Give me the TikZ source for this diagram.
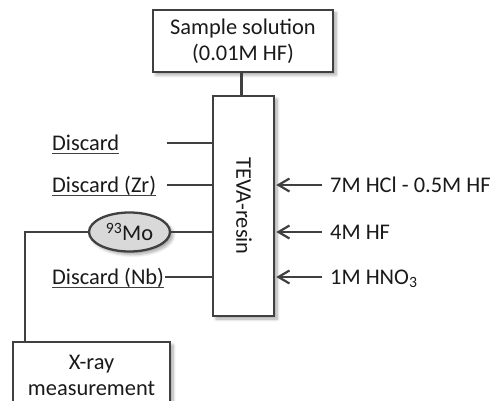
\documentclass[tikz,border=0pt]{standalone}
\usepackage{fontspec}
\setmainfont{Carlito}
\usetikzlibrary{arrows.meta,shapes.geometric,shadows.blur}
\definecolor{ln}{HTML}{404040}
\definecolor{tx}{HTML}{1A1A1A}
\definecolor{mofill}{HTML}{D9D9D9}
\tikzset{
  shad/.style={blur shadow={shadow xshift=3pt,shadow yshift=-3pt,shadow blur steps=6,shadow opacity=35,shadow blur radius=3pt}},
  boxnode/.style={draw=ln,line width=2.6pt,fill=white,inner sep=0pt,align=center,text=tx,shad},
  conn/.style={draw=ln,line width=2.3pt},
  feed/.style={conn,-{Straight Barb[length=11pt,width=13pt,line width=2.2pt]}},
  lbl/.style={inner sep=0pt,text=tx,anchor=base west},
  uline/.style={draw=ln,line width=1pt},
}
\begin{document}
\begin{tikzpicture}[x=1pt,y=-1pt,font=\fontsize{22.4}{26}\selectfont]
\useasboundingbox (0,0) rectangle (492,401);
% boxes
\node[boxnode,minimum width=180pt,minimum height=62pt] (sample) at (243,41) {Sample solution\\(0.01M HF)};
\node[boxnode,minimum width=61pt,minimum height=220pt] (resin) at (243.5,206) {};
\node[text=tx,rotate=-90,inner sep=0pt] (resinlbl) at (244,206) {TEVA-resin};
\node[boxnode,minimum width=157pt,minimum height=66pt] (xray) at (91.5,375) {X-ray\\measurement};
\node[ellipse,draw=ln,line width=2.3pt,fill=mofill,minimum width=81pt,minimum height=39pt,inner sep=0pt,text=tx,shad] (mo) at (129.5,232) {$^{\mathrm{93}}$Mo};
% top connector
\draw[conn] (sample.south -| 241.5,0) -- (resin.north -| 241.5,0);
% left labels
\node[lbl] (d1) at (52,150) {Discard};
\node[lbl] (d2) at (52,192) {Discard (Zr)};
\node[lbl] (d3) at (52,284) {Discard (Nb)};
\foreach \n in {d1,d2,d3}{
  \draw[uline] ([yshift=-3pt]\n.base west) -- ([yshift=-3pt]\n.base east);
}
\coordinate (c1) at (167,143);
\coordinate (c2) at (167,185);
\coordinate (c3) at (165,277);
\draw[conn] (c1) -- (c1 -| resin.west);
\draw[conn] (c2) -- (c2 -| resin.west);
\draw[conn] (c3) -- (c3 -| resin.west);
\draw[conn] (mo.east) -- (mo.east -| resin.west);
\coordinate (corner) at (25,232);
\draw[conn] (mo.west) -- (corner) -- (corner |- xray.north);
% right feeds
\coordinate (f1) at (322,185);
\coordinate (f2) at (322,232);
\coordinate (f3) at (322,277);
\draw[feed] (f1) -- ([xshift=1pt]f1 -| resin.east);
\draw[feed] (f2) -- ([xshift=1pt]f2 -| resin.east);
\draw[feed] (f3) -- ([xshift=1pt]f3 -| resin.east);
\node[lbl] (r1) at (330,192) {7M HCl - 0.5M HF};
\node[lbl] (r2) at (330,239) {4M HF};
\node[lbl] (r3) at (330,284) {1M HNO$_{\mathrm{3}}$};
\end{tikzpicture}
\end{document}
